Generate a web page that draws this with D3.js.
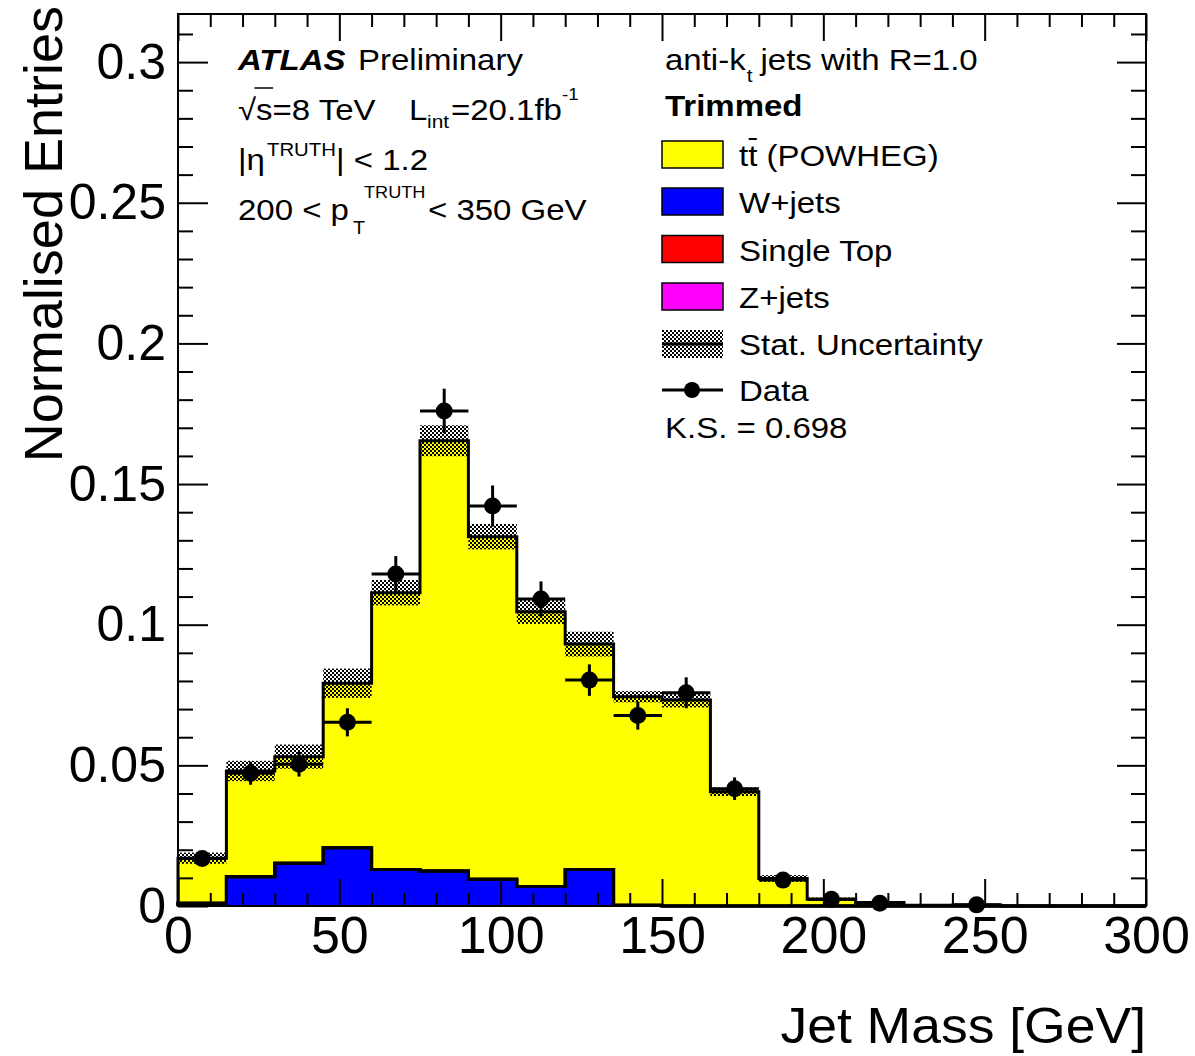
<!DOCTYPE html>
<html><head><meta charset="utf-8">
<script src="https://cdn.jsdelivr.net/npm/d3@7"></script>
<style>
body{margin:0;background:#fff}
svg{display:block}
text{font-family:"Liberation Sans",Arial,Helvetica,sans-serif;fill:#000}
</style>
</head><body>
<svg id="c" width="1195" height="1056"></svg>
<script>
// ---------------- data ----------------
const binEdges = [0,15,30,45,60,75,90,105,120,135,150,165,180,195,210,225,240,255,270,285,300];
const ttbar     = [0.0160,0.0376,0.0379,0.0585,0.0984,0.1530,0.1218,0.0977,0.0801,0.0741,0.0732,0.0406,0.0098,0.0024,0.0012,0.0003,0.0004,0,0,0];
const wjets     = [0.0010,0.0104,0.0152,0.0207,0.0130,0.0124,0.0095,0.0069,0.0130,0.0003,0,0,0,0,0,0,0,0,0,0];
const singleTop = [0,0,0,0,0,0,0,0,0,0,0,0,0,0,0,0,0,0,0,0];
const zjets     = [0,0,0,0,0,0,0,0,0,0,0,0,0,0,0,0,0,0,0,0];
const statErr   = [0.0020,0.0036,0.0043,0.0052,0.0045,0.0055,0.0045,0.0043,0.0044,0.0020,0.0026,0.0015,0.0012,0.0006,0.0004,0.0002,0.0002,0,0,0];
const dataVals  = [0.0169,0.0472,0.0504,0.0653,0.1180,0.1760,0.1422,0.1091,0.0803,0.0677,0.0758,0.0417,0.0092,0.0024,0.0010,null,0.0004,null,null,null];
const dataErr   = [0.0022,0.0041,0.0044,0.0050,0.0064,0.0079,0.0073,0.0063,0.0056,0.0050,0.0055,0.0040,0.0020,0.0012,0.0008,null,0.0005,null,null,null];
const xTicks = [0,50,100,150,200,250,300];
const xTickLabels = ["0","50","100","150","200","250","300"];
const yTicks = [0,0.05,0.1,0.15,0.2,0.25,0.3];
const yTickLabels = ["0","0.05","0.1","0.15","0.2","0.25","0.3"];
const seriesNames = ["tt (POWHEG)","W+jets","Single Top","Z+jets"];

// ---------------- layout ----------------
const L=178,R=1146,T=14,B=906;
const SX=1.1;
const svg=d3.select("#c");
const x=d3.scaleLinear().domain([0,300]).range([L,R]);
const y=d3.scaleLinear().domain([0,0.3171]).range([B,T]);
const nb=ttbar.length;

const defs=svg.append("defs");
const pat=defs.append("pattern").attr("id","hatch").attr("patternUnits","userSpaceOnUse").attr("width",4).attr("height",4);
pat.append("rect").attr("x",0).attr("y",0).attr("width",2).attr("height",2).attr("fill","#000");
pat.append("rect").attr("x",2).attr("y",2).attr("width",2).attr("height",2).attr("fill","#000");

// ---------------- stack ----------------
const keys=["wjets","singletop","zjets","ttbar"];
const colors={wjets:"#0000ff",singletop:"#ff0000",zjets:"#ff00ff",ttbar:"#ffff00"};
const rows=d3.range(nb).map(i=>({wjets:wjets[i],singletop:singleTop[i],zjets:zjets[i],ttbar:ttbar[i]}));
const stacked=d3.stack().keys(keys)(rows);
const total=stacked[stacked.length-1].map(d=>d[1]);

const area=d3.area().curve(d3.curveStepAfter)
  .x(d=>x(d.e)).y0(d=>y(d.y0)).y1(d=>y(d.y1));
const line=d3.line().x(d=>x(d[0])).y(d=>y(d[1]));
function stepPts(vals){
  const p=[[binEdges[0],0]];
  vals.forEach((v,i)=>{p.push([binEdges[i],v]);p.push([binEdges[i+1],v]);});
  p.push([binEdges[nb],0]);
  return p;
}
const gh=svg.append("g");
stacked.forEach(layer=>{
  const pts=layer.map((d,i)=>({e:binEdges[i],y0:d[0],y1:d[1]}));
  const last=layer[nb-1];
  pts.push({e:binEdges[nb],y0:last[0],y1:last[1]});
  gh.append("path").attr("d",area(pts)).attr("fill",colors[layer.key]).attr("stroke","none");
});
// stat band
gh.selectAll("rect.band").data(total).join("rect").attr("class","band")
  .attr("x",(d,i)=>x(binEdges[i])).attr("width",(d,i)=>x(binEdges[i+1])-x(binEdges[i]))
  .attr("y",(d,i)=>y(d+statErr[i])).attr("height",(d,i)=>y(d-statErr[i])-y(d+statErr[i]))
  .attr("fill","url(#hatch)");
// outlines of each cumulative histogram
stacked.forEach(layer=>{
  gh.append("path").attr("d",line(stepPts(layer.map(d=>d[1]))))
    .attr("fill","none").attr("stroke","#000").attr("stroke-width",3).attr("stroke-linejoin","miter");
});

// ---------------- data points ----------------
const gd=svg.append("g");
dataVals.forEach((v,i)=>{
  if(v==null) return;
  const cx=x((binEdges[i]+binEdges[i+1])/2);
  gd.append("line").attr("x1",x(binEdges[i])).attr("x2",x(binEdges[i+1])).attr("y1",y(v)).attr("y2",y(v)).attr("stroke","#000").attr("stroke-width",3);
  gd.append("line").attr("x1",cx).attr("x2",cx).attr("y1",y(v+dataErr[i])).attr("y2",y(Math.max(0,v-dataErr[i]))).attr("stroke","#000").attr("stroke-width",3);
  gd.append("circle").attr("cx",cx).attr("cy",y(v)).attr("r",8.5).attr("fill","#000");
});

// ---------------- frame & axes ----------------
svg.append("rect").attr("x",L).attr("y",T).attr("width",R-L).attr("height",B-T).attr("fill","none").attr("stroke","#000").attr("stroke-width",2);
const minorX=d3.range(0,301,10).filter(v=>v%50!==0);
const minorY=d3.range(1,32).map(v=>v/100).filter(v=>Math.round(v*100)%5!==0);
function styleAxis(g,fs){
  g.select(".domain").remove();
  g.selectAll(".tick line").attr("stroke-width",2);
  g.attr("font-family",null).attr("font-size",fs);
  g.selectAll("text").attr("fill","#000");
}
svg.append("g").attr("transform",`translate(0,${B})`)
  .call(d3.axisBottom(x).tickValues(xTicks).tickFormat((d,i)=>xTickLabels[i]).tickSizeInner(-27).tickSizeOuter(0).tickPadding(10))
  .call(g=>styleAxis(g,52));
svg.append("g").attr("transform",`translate(0,${B})`)
  .call(d3.axisBottom(x).tickValues(minorX).tickFormat("").tickSizeInner(-13).tickSizeOuter(0)).call(g=>styleAxis(g,10));
svg.append("g").attr("transform",`translate(0,${T})`)
  .call(d3.axisTop(x).tickValues(xTicks).tickFormat("").tickSizeInner(-27).tickSizeOuter(0)).call(g=>styleAxis(g,10));
svg.append("g").attr("transform",`translate(0,${T})`)
  .call(d3.axisTop(x).tickValues(minorX).tickFormat("").tickSizeInner(-13).tickSizeOuter(0)).call(g=>styleAxis(g,10));
svg.append("g").attr("transform",`translate(${L},0)`)
  .call(d3.axisLeft(y).tickValues(yTicks).tickFormat((d,i)=>yTickLabels[i]).tickSizeInner(-30).tickSizeOuter(0).tickPadding(12))
  .call(g=>styleAxis(g,50));
svg.append("g").attr("transform",`translate(${L},0)`)
  .call(d3.axisLeft(y).tickValues(minorY).tickFormat("").tickSizeInner(-15).tickSizeOuter(0)).call(g=>styleAxis(g,10));
svg.append("g").attr("transform",`translate(${R},0)`)
  .call(d3.axisRight(y).tickValues(yTicks).tickFormat("").tickSizeInner(-29).tickSizeOuter(0)).call(g=>styleAxis(g,10));
svg.append("g").attr("transform",`translate(${R},0)`)
  .call(d3.axisRight(y).tickValues(minorY).tickFormat("").tickSizeInner(-15).tickSizeOuter(0)).call(g=>styleAxis(g,10));

// ---------------- texts ----------------
function txt(xp,yp,size,s,o={}){
  const sx=o.sx||SX;
  const g=svg.append("g").attr("transform",`translate(${xp},${yp}) scale(${sx},1)`);
  const t=g.append("text").attr("font-size",size).attr("text-anchor",o.anchor||"start").text(s);
  if(o.bold) t.attr("font-weight","bold");
  if(o.italic) t.attr("font-style","italic");
  const w=t.node().getComputedTextLength()*sx;
  return {g,t,end:xp+w};
}
// axis titles
txt(R,1043,50,"Jet Mass [GeV]",{anchor:"end",sx:1.07});
svg.append("text").attr("transform","translate(62,6) rotate(-90)").attr("text-anchor","end").attr("font-size",54).text("Normalised Entries");

// left block
txt(238,70,30,"ATLAS",{bold:true,italic:true});
txt(358,70,30,"Preliminary");
const sq=txt(238,120,30,"\u221As=8 TeV");
{
  const e=sq.t.node().getExtentOfChar(1);
  sq.g.append("line").attr("x1",e.x-1.5).attr("x2",e.x+e.width+0.5).attr("y1",-32).attr("y2",-32).attr("stroke","#000").attr("stroke-width",1.5);
}
txt(409,120,30,"L");
txt(427,128,19,"int");
txt(451,120,30,"=20.1fb");
txt(562,100,17,"-1");
txt(238,170,30,"|\u03B7");
txt(267,156,18.5,"TRUTH");
txt(336,170,30,"| < 1.2");
const p4=txt(238,220,30,"200 < p");
txt(p4.end+4,234,18,"T");
txt(364,198,16.5,"TRUTH");
txt(428,220,30,"< 350 GeV");

// right block
const ak=txt(665,70,30,"anti-k");
const akt=txt(ak.end+1,82,19,"t");
txt(akt.end+8,70,30,"jets with R=1.0");
txt(665,116,30,"Trimmed",{bold:true});

const legY=[154.5,201.5,249,296.5];
const legKeys=["ttbar","wjets","singletop","zjets"];
legKeys.forEach((k,i)=>{
  svg.append("rect").attr("x",662).attr("y",legY[i]-13.5).attr("width",61).attr("height",27)
    .attr("fill",colors[k]).attr("stroke","#000").attr("stroke-width",1.5);
  const tt=txt(739,legY[i]+11.5,30,seriesNames[i]);
  if(i===0){
    const e=tt.t.node().getExtentOfChar(1);
    tt.g.append("line").attr("x1",e.x+0.5).attr("x2",e.x+e.width-0.5).attr("y1",-27).attr("y2",-27).attr("stroke","#000").attr("stroke-width",2);
  }
});
svg.append("rect").attr("x",662).attr("y",330).attr("width",61).attr("height",28).attr("fill","url(#hatch)");
svg.append("line").attr("x1",662).attr("x2",723).attr("y1",344).attr("y2",344).attr("stroke","#000").attr("stroke-width",3);
txt(739,355,30,"Stat. Uncertainty");
svg.append("line").attr("x1",662).attr("x2",723).attr("y1",390).attr("y2",390).attr("stroke","#000").attr("stroke-width",3);
svg.append("circle").attr("cx",692).attr("cy",390).attr("r",8).attr("fill","#000");
txt(739,401,30,"Data");
txt(665,438,30,"K.S. = 0.698");
</script>
</body></html>
